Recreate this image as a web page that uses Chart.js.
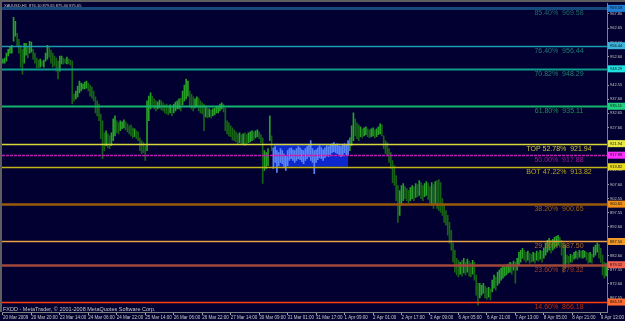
<!DOCTYPE html>
<html>
<head>
<meta charset="utf-8">
<script src="https://cdn.jsdelivr.net/npm/chart.js@4.4.0/dist/chart.umd.min.js"></script>
<style>
  html, body { margin: 0; padding: 0; background: #020030; }
  canvas { display: block; }
</style>
</head>
<body>
<canvas id="grafico" width="625" height="321"></canvas>
<script>
// texts
const symbolInfo = 'XAUUSD,H1  876.10 879.65 875.40 875.65';
const copyright = 'FXDD - MetaTrader, \u00A9 2001-2008 MetaQuotes Software Corp.';

// time axis: one label every 16 H1 bars
const barsPerLabel = 16;
const timeLabels = ['20 Mar 2009', '20 Mar 20:00', '23 Mar 14:00', '24 Mar 06:00', '24 Mar 22:00', '25 Mar 14:00',
  '26 Mar 06:00', '26 Mar 22:00', '27 Mar 14:00', '30 Mar 09:00', '31 Mar 01:00', '31 Mar 17:00', '1 Apr 09:00',
  '2 Apr 01:00', '2 Apr 17:00', '3 Apr 09:00', '6 Apr 05:00', '6 Apr 21:00', '7 Apr 13:00', '8 Apr 05:00',
  '8 Apr 21:00', '9 Apr 13:00'];

// price axis labels
const priceTicks = [967.80, 962.65, 957.60, 952.60, 947.55, 942.55, 937.60, 932.65, 927.60, 922.55, 917.55,
  912.55, 907.60, 902.55, 897.55, 892.60, 887.55, 882.60, 877.55, 872.60, 867.55];

// H1 bars (high / low)
const highs = [
  951.7, 952.1, 953.8, 955.2, 955.9, 956.6, 966.4, 965.0, 960.8, 958.7,
  956.6, 955.2, 957.3, 957.3, 955.9, 958.0, 957.7, 955.2, 953.8, 952.1,
  951.4, 951.7, 951.0, 951.4, 953.8, 956.6, 955.9, 954.9, 953.8, 952.8,
  952.1, 951.0, 952.8, 952.8, 952.1, 951.7, 952.4, 951.7, 951.4, 951.0,
  939.4, 940.5, 942.2, 944.0, 943.3, 942.9, 943.6, 944.0, 943.3, 942.6,
  941.9, 940.5, 938.4, 937.0, 935.9, 932.4, 930.0, 925.8, 926.5, 925.4,
  924.7, 925.8, 930.7, 931.7, 930.0, 929.3, 930.0, 929.6, 930.3, 929.6,
  928.9, 928.2, 928.6, 927.5, 927.2, 926.5, 926.1, 924.0, 923.0, 922.3,
  921.2, 937.0, 938.7, 939.8, 938.7, 937.7, 937.0, 936.6, 937.3, 937.0,
  936.3, 935.6, 935.9, 935.2, 935.6, 934.9, 935.9, 936.6, 937.0, 937.7,
  938.0, 940.5, 942.6, 944.7, 944.0, 940.5, 939.4, 938.4, 937.7, 938.4,
  938.0, 937.0, 936.3, 935.9, 935.2, 934.5, 934.2, 933.8, 934.2, 934.5,
  934.9, 935.2, 935.9, 936.3, 935.9, 934.5, 930.0, 929.3, 928.2, 927.5,
  926.8, 926.1, 925.4, 925.8, 925.1, 925.4, 925.8, 925.1, 925.8, 926.1,
  926.5, 926.1, 926.5, 926.8, 926.1, 925.1, 924.0, 919.5, 918.8, 920.2,
  931.7, 924.7, 920.5, 920.9, 919.5, 918.8, 920.2, 919.5, 918.4, 917.7,
  919.5, 920.2, 920.5, 919.8, 919.5, 920.2, 920.9, 920.5, 919.8, 919.5,
  920.2, 920.9, 921.6, 923.0, 920.2, 919.5, 919.8, 920.5, 921.2, 920.5,
  919.8, 920.5, 921.2, 920.9, 921.6, 921.9, 922.3, 921.6, 921.9, 921.2,
  920.9, 921.6, 921.9, 921.6, 923.0, 924.0, 928.2, 932.8, 930.7, 929.3,
  928.6, 927.9, 927.2, 927.5, 927.9, 927.2, 926.8, 927.2, 927.5, 926.8,
  927.2, 927.9, 928.9, 928.6, 924.7, 923.0, 922.3, 920.2, 918.8, 916.0,
  914.2, 910.7, 907.2, 905.4, 907.2, 907.9, 906.8, 906.1, 905.4, 906.5,
  907.2, 906.8, 907.9, 907.5, 908.9, 908.2, 907.2, 907.9, 908.6, 907.9,
  906.8, 908.2, 907.5, 908.6, 908.9, 909.3, 908.2, 902.6, 900.2, 898.4,
  896.7, 894.2, 891.4, 886.9, 884.4, 881.6, 880.9, 880.2, 880.9, 881.6,
  880.2, 881.3, 880.6, 879.9, 880.9, 880.2, 875.7, 872.8, 872.8, 872.1,
  872.8, 871.8, 871.1, 871.4, 870.7, 873.9, 875.7, 875.0, 876.7, 877.4,
  878.1, 878.8, 878.5, 879.2, 879.5, 880.2, 879.9, 880.6, 880.2, 881.6,
  883.7, 884.4, 885.1, 884.4, 883.7, 884.1, 883.4, 883.0, 883.7, 883.4,
  884.1, 883.7, 884.4, 884.1, 885.1, 886.9, 887.9, 888.6, 887.9, 888.3,
  889.0, 889.3, 889.7, 889.0, 887.9, 886.9, 886.2, 882.7, 882.3, 883.0,
  882.7, 883.7, 884.1, 883.7, 884.4, 884.1, 884.4, 884.1, 883.7, 883.4,
  883.7, 883.0, 885.5, 886.2, 886.9, 886.5, 885.1, 882.7, 880.2, 879.7
];
const lows = [
  950.3, 950.3, 951.0, 952.8, 953.8, 953.8, 958.0, 959.8, 956.3, 953.8,
  948.9, 946.4, 950.3, 953.1, 952.1, 953.8, 954.2, 951.7, 950.3, 948.6,
  948.6, 948.9, 949.3, 948.9, 951.0, 951.7, 952.4, 950.3, 948.9, 949.3,
  947.5, 944.7, 947.5, 950.0, 950.0, 950.3, 950.0, 950.0, 949.6, 935.9,
  937.0, 937.7, 938.4, 939.8, 940.5, 941.2, 941.2, 941.5, 940.5, 938.7,
  938.0, 937.0, 932.8, 931.7, 930.0, 923.7, 916.7, 919.5, 921.2, 920.5,
  920.2, 921.2, 923.0, 924.7, 925.8, 925.4, 926.5, 927.2, 927.5, 926.8,
  926.1, 925.4, 924.7, 924.0, 924.4, 923.7, 923.0, 919.5, 918.4, 918.8,
  916.0, 919.5, 930.0, 934.2, 934.9, 934.2, 933.5, 934.2, 934.5, 933.8,
  933.5, 932.8, 932.4, 932.1, 932.8, 931.7, 932.8, 933.5, 934.2, 934.2,
  933.5, 935.6, 937.0, 937.7, 938.7, 934.9, 934.2, 933.5, 934.5, 934.9,
  933.5, 932.8, 932.4, 926.5, 931.4, 931.0, 931.4, 931.0, 931.7, 932.1,
  932.8, 932.8, 933.5, 934.2, 933.1, 926.5, 925.4, 924.7, 924.4, 923.3,
  923.0, 922.6, 921.9, 922.3, 921.6, 921.9, 921.2, 921.6, 922.3, 922.6,
  923.0, 923.3, 924.0, 924.4, 923.7, 922.3, 907.9, 912.5, 913.2, 914.2,
  923.0, 919.5, 913.2, 915.3, 911.8, 914.2, 915.3, 914.9, 913.9, 912.5,
  914.2, 916.0, 916.7, 916.0, 915.3, 916.0, 916.7, 916.3, 915.6, 914.9,
  916.0, 916.7, 917.4, 916.0, 915.3, 911.4, 915.3, 916.3, 917.0, 916.7,
  916.0, 917.0, 917.7, 917.4, 918.1, 918.8, 919.1, 918.8, 918.4, 917.7,
  917.4, 918.1, 918.8, 918.1, 917.7, 919.5, 921.2, 923.0, 924.7, 923.7,
  923.0, 924.4, 924.0, 924.7, 925.1, 924.4, 924.0, 924.4, 924.7, 924.0,
  924.4, 925.1, 925.4, 924.7, 920.2, 918.4, 917.7, 915.3, 913.2, 908.2,
  907.2, 901.9, 894.2, 896.7, 900.2, 901.9, 902.6, 901.9, 901.2, 901.9,
  902.6, 901.9, 903.0, 903.3, 903.7, 902.6, 901.9, 903.3, 903.7, 902.3,
  901.2, 900.2, 899.1, 900.9, 899.1, 898.4, 897.7, 896.7, 894.2, 893.2,
  889.7, 886.9, 884.4, 880.2, 876.7, 875.7, 875.0, 876.0, 875.3, 876.4,
  875.7, 876.7, 875.3, 875.0, 876.0, 873.9, 868.6, 865.1, 867.6, 868.6,
  869.3, 867.6, 867.2, 867.9, 866.9, 869.7, 871.1, 870.4, 872.1, 872.8,
  873.9, 874.6, 875.3, 875.7, 876.4, 876.7, 876.0, 877.4, 872.8, 877.4,
  879.2, 880.2, 881.6, 880.9, 880.2, 880.9, 879.9, 880.2, 880.6, 879.9,
  880.9, 880.6, 881.3, 880.2, 881.6, 882.7, 883.7, 884.4, 883.4, 884.4,
  885.1, 885.8, 886.2, 885.5, 882.7, 876.7, 878.1, 879.9, 879.5, 880.2,
  880.2, 881.3, 881.6, 881.3, 882.0, 881.6, 881.6, 882.0, 880.9, 879.9,
  880.2, 879.9, 882.0, 882.7, 883.7, 881.6, 880.2, 875.7, 874.6, 875.4
];

// Fibonacci levels
const fibNames = ['85.40%', '76.40%', '70.82%', '61.80%', 'TOP 52.78%', '50.00%', 'BOT 47.22%',
  '38.20%', '29.20%', '23.60%', '14.60%'];
const fibValues = [969.58, 956.44, 948.29, 935.11, 921.94, 917.88, 913.82, 900.65, 887.50, 879.32, 866.18];

// rectangle between TOP and BOT levels, first and last bar index
const boxBars = [152, 194];

// styles
const bgColor = '#020030';
const fibLineColors = ['#17487c', '#1a9cae', '#0e9c8c', '#14b46e', '#d8d83c', '#c020b0', '#c0b418',
  '#9a5a0c', '#e8a040', '#a0483a', '#ff3c0c'];
const fibTextColors = ['#236868', '#1e7a7a', '#1f8070', '#1c9050', '#c8c038', '#a0189a', '#b8a818',
  '#a06418', '#a86a28', '#a0402c', '#b83010'];
const fibBoxColors = ['#2080d8', '#3cb4dc', '#20e0e0', '#20d080', '#e8e840', '#ff30ff', '#e8d820',
  '#f09018', '#f09828', '#f06050', '#ff6a30'];
const fibWidths = [3, 1.5, 2, 2, 1.5, 1.5, 1.5, 2.5, 1.5, 2.5, 1.5];

const barColors = highs.map((h, i) => {
  if (i >= boxBars[0] && i <= boxBars[1]) return '#5b86f5';
  const mid = (h + lows[i]) / 2;
  const prev = i ? (highs[i - 1] + lows[i - 1]) / 2 : mid;
  return mid >= prev ? '#28a028' : '#186218';
});

const mtOverlay = {
  id: 'mtOverlay',
  beforeDraw(chart) {
    const c = chart.ctx;
    c.save();
    c.fillStyle = bgColor;
    c.fillRect(0, 0, chart.width, chart.height);
    c.restore();
  },
  beforeDatasetsDraw(chart) {
    const { ctx: c, scales: { x, y } } = chart;
    const x0 = x.getPixelForValue(boxBars[0]);
    const x1 = x.getPixelForValue(boxBars[1]);
    const y0 = y.getPixelForValue(fibValues[4]);
    const y1 = y.getPixelForValue(fibValues[6]);
    c.save();
    c.fillStyle = '#0c28cc';
    c.fillRect(x0, y0, x1 - x0, y1 - y0);
    c.restore();
  },
  afterDatasetsDraw(chart) {
    const { ctx: c, chartArea: a, scales: { y } } = chart;
    c.save();
    fibValues.forEach((v, i) => {
      const py = Math.round(y.getPixelForValue(v)) + 0.5;
      c.strokeStyle = fibLineColors[i];
      c.lineWidth = fibWidths[i];
      c.setLineDash(i === 5 ? [3, 1] : []);
      c.beginPath();
      c.moveTo(a.left, py);
      c.lineTo(a.right, py);
      c.stroke();
    });
    c.setLineDash([]);
    c.font = '7px "Liberation Sans"';
    c.textAlign = 'center';
    c.textBaseline = 'middle';
    fibValues.forEach((v, i) => {
      const py = y.getPixelForValue(v);
      c.fillStyle = fibTextColors[i];
      c.fillText(fibNames[i] + '  ' + v.toFixed(2), a.right - 48, py + 5);
    });
    c.restore();
  },
  afterDraw(chart) {
    const { ctx: c, chartArea: a, scales: { y } } = chart;
    c.save();
    // price boxes on the right axis
    c.font = '4px "Liberation Sans"';
    c.textAlign = 'left';
    c.textBaseline = 'middle';
    fibValues.forEach((v, i) => {
      const py = y.getPixelForValue(v);
      c.fillStyle = fibBoxColors[i];
      c.fillRect(a.right + 1, py - 3.5, chart.width - a.right - 1, 7);
      c.fillStyle = '#101010';
      c.fillText(v.toFixed(2), a.right + 3, py);
    });
    // frame
    c.fillStyle = '#5e5e5e';
    c.fillRect(0, 0, chart.width, 2);
    c.fillRect(0, 0, 2, a.bottom);
    // texts
    c.fillStyle = '#c8c8c8';
    c.font = '4px "Liberation Sans"';
    c.fillText(symbolInfo, a.left + 2, a.top + 2.5);
    c.font = '5.5px "Liberation Sans"';
    c.fillText(copyright, a.left + 1, a.bottom - 3);
    c.restore();
  }
};

const ctx = document.getElementById('grafico').getContext('2d');

const grafico = new Chart(ctx, {
  type: 'bar',
  data: {
    labels: highs.map((_, i) => i),
    datasets: [{
      data: lows.map((l, i) => [l, highs[i]]),
      backgroundColor: barColors,
      borderWidth: 0,
      barThickness: 1
    }]
  },
  options: {
    responsive: false,
    animation: false,
    layout: { padding: { left: 2, top: 2, right: 0, bottom: 0 } },
    plugins: {
      legend: { display: false },
      tooltip: { enabled: false }
    },
    scales: {
      x: {
        afterFit: (s) => { s.height = 9; },
        ticks: {
          autoSkip: false,
          maxRotation: 0,
          minRotation: 0,
          align: 'start',
          padding: 0,
          color: '#c8c8c8',
          font: { size: 4.5, family: 'Liberation Sans' },
          callback: (v, i) => (i % barsPerLabel === 0 ? timeLabels[i / barsPerLabel] : null)
        },
        grid: { drawOnChartArea: false, drawTicks: true, tickLength: 3, offset: false, color: '#a0a0a0' },
        border: { color: '#808080' }
      },
      y: {
        position: 'right',
        min: 862.67,
        max: 971.33,
        afterFit: (s) => { s.width = 18; },
        afterBuildTicks: (s) => {
          s.ticks = priceTicks.filter(v => v >= s.min && v <= s.max).map(v => ({ value: v }));
        },
        ticks: {
          padding: 1,
          color: '#c8c8c8',
          font: { size: 4, family: 'Liberation Sans' },
          callback: (v) => v.toFixed(2)
        },
        grid: { drawOnChartArea: false, drawTicks: true, tickLength: 2, color: '#a0a0a0' },
        border: { color: '#808080' }
      }
    }
  },
  plugins: [mtOverlay]
});
</script>
</body>
</html>
